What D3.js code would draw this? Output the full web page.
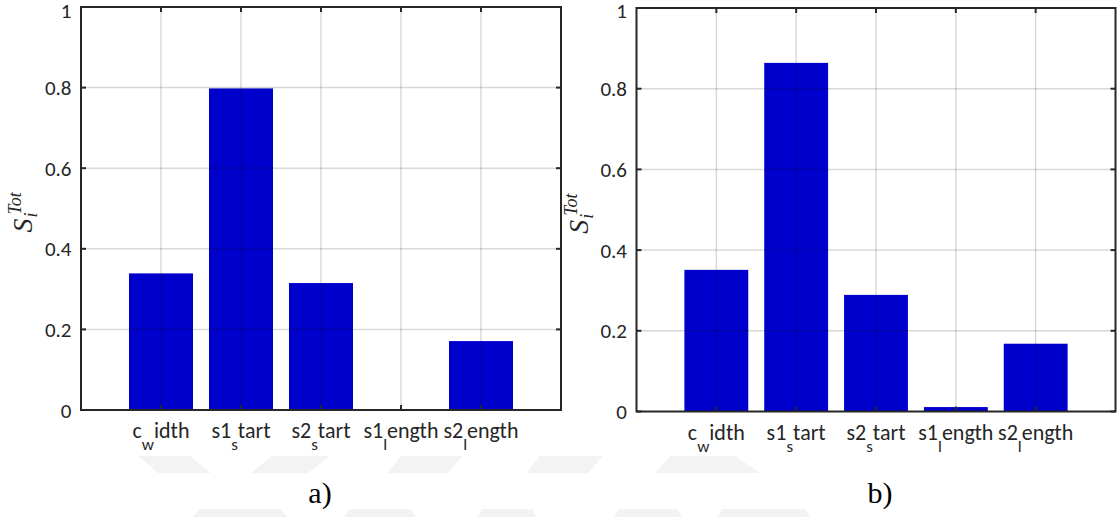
<!DOCTYPE html>
<html>
<head>
<meta charset="utf-8">
<script src="https://cdn.jsdelivr.net/npm/d3@7"></script>
<style>
  html, body { margin: 0; padding: 0; background: #ffffff; }
  svg { display: block; }
</style>
</head>
<body>
<svg id="chart" width="1119" height="517"></svg>
<script>
// Total-effect Sobol indices for the five design parameters, two cases.
const categories = ["c_width", "s1_start", "s2_start", "s1_length", "s2_length"];
const valuesA = [0.339, 0.798, 0.315, 0.0, 0.171];
const valuesB = [0.351, 0.864, 0.289, 0.011, 0.168];
const yTicks = [0, 0.2, 0.4, 0.6, 0.8, 1];
const yTickLabels = ["0", "0.2", "0.4", "0.6", "0.8", "1"];
const captions = ["a)", "b)"];

const svg = d3.select("#chart");
const tickFont = "Carlito, Lato, 'Open Sans', sans-serif";
const axisColor = "#262626";
const barColor = "#0000cc";

// faint background watermark stripes
const wm = svg.append("g").attr("fill", "#f3f3f3");
const stripes = [
  [[138,456],[190,456],[211,473],[158,473]],
  [[272,456],[330,456],[308,473],[251,473]],
  [[401,456],[462,456],[448,473],[387,473]],
  [[540,456],[603,456],[588,473],[526,473]],
  [[670,456],[735,456],[760,473],[655,473]],
  [[200,509],[280,509],[287,517],[193,517]],
  [[350,509],[410,509],[416,517],[344,517]],
  [[482,509],[532,509],[537,517],[477,517]],
  [[619,509],[677,509],[682,517],[614,517]],
  [[722,509],[805,509],[810,517],[717,517]]
];
stripes.forEach(p => wm.append("polygon").attr("points", p.map(d => d.join(",")).join(" ")));

const panels = [
  { values: valuesA, caption: captions[0], left: 81, right: 561, top: 7, bottom: 410, capX: 320 },
  { values: valuesB, caption: captions[1], left: 636.5, right: 1115.5, top: 8, bottom: 411.5, capX: 880 }
];

panels.forEach(p => {
  const g = svg.append("g");
  const x = d3.scaleLinear().domain([0, categories.length + 1]).range([p.left, p.right]);
  const y = d3.scaleLinear().domain([0, 1]).range([p.bottom, p.top]);
  const barW = x(0.8) - x(0);

  // bars
  g.selectAll("rect.bar").data(p.values).join("rect")
    .attr("class", "bar")
    .attr("x", (d, i) => x(i + 1) - barW / 2)
    .attr("width", barW)
    .attr("y", d => y(d))
    .attr("height", d => y(0) - y(d))
    .attr("fill", barColor);

  // grid drawn over the bars, translucent
  const grid = g.append("g").attr("stroke", "rgba(0,0,0,0.15)").attr("stroke-width", 1.5);
  categories.forEach((c, i) => grid.append("line")
    .attr("x1", x(i + 1)).attr("x2", x(i + 1)).attr("y1", p.top).attr("y2", p.bottom));
  yTicks.slice(1, -1).forEach(t => grid.append("line")
    .attr("x1", p.left).attr("x2", p.right).attr("y1", y(t)).attr("y2", y(t)));

  // box and inward ticks
  const ax = g.append("g").attr("stroke", axisColor).attr("stroke-width", 2).attr("fill", "none");
  ax.append("rect").attr("x", p.left).attr("y", p.top)
    .attr("width", p.right - p.left).attr("height", p.bottom - p.top);
  const tl = 5;
  yTicks.forEach(t => {
    ax.append("line").attr("x1", p.left).attr("x2", p.left + tl).attr("y1", y(t)).attr("y2", y(t));
    ax.append("line").attr("x1", p.right).attr("x2", p.right - tl).attr("y1", y(t)).attr("y2", y(t));
  });
  categories.forEach((c, i) => {
    ax.append("line").attr("x1", x(i + 1)).attr("x2", x(i + 1)).attr("y1", p.bottom).attr("y2", p.bottom - tl);
    ax.append("line").attr("x1", x(i + 1)).attr("x2", x(i + 1)).attr("y1", p.top).attr("y2", p.top + tl);
  });

  // y tick labels
  yTicks.forEach((t, i) => g.append("text")
    .attr("x", p.left - 9.5).attr("y", Math.max(y(t), 10)).attr("dy", "0.36em")
    .attr("text-anchor", "end")
    .attr("font-family", tickFont).attr("font-size", 21).attr("fill", axisColor)
    .text(yTickLabels[i]));

  // x tick labels, TeX-style: the character after "_" becomes a subscript
  categories.forEach((c, i) => {
    const k = c.indexOf("_");
    const t = g.append("text")
      .attr("x", x(i + 1)).attr("y", p.bottom + 28)
      .attr("text-anchor", "middle")
      .attr("font-family", tickFont).attr("font-size", 22).attr("fill", axisColor);
    t.append("tspan").text(c.slice(0, k));
    t.append("tspan").attr("font-size", 17).attr("dy", 12).text(c.charAt(k + 1));
    t.append("tspan").attr("dy", -12).text(c.slice(k + 2));
  });

  // y axis label S_i^{Tot}
  const lab = g.append("g")
    .attr("transform", `translate(${p.left - 49},${(p.top + p.bottom) / 2 + 24}) rotate(-90)`)
    .attr("font-family", "'Liberation Serif', 'Times New Roman', serif")
    .attr("font-style", "italic").attr("fill", axisColor);
  lab.append("text").attr("x", 0).attr("y", 0).attr("font-size", 28).text("S");
  lab.append("text").attr("x", 18).attr("y", -11).attr("font-size", 18).text("Tot");
  lab.append("text").attr("x", 15).attr("y", 5).attr("font-size", 18).text("i");

  // panel caption
  svg.append("text").attr("x", p.capX).attr("y", 503)
    .attr("text-anchor", "middle")
    .attr("font-family", "'Liberation Serif', 'Times New Roman', serif")
    .attr("font-size", 30).attr("fill", "#000")
    .text(p.caption);
});
</script>
</body>
</html>
